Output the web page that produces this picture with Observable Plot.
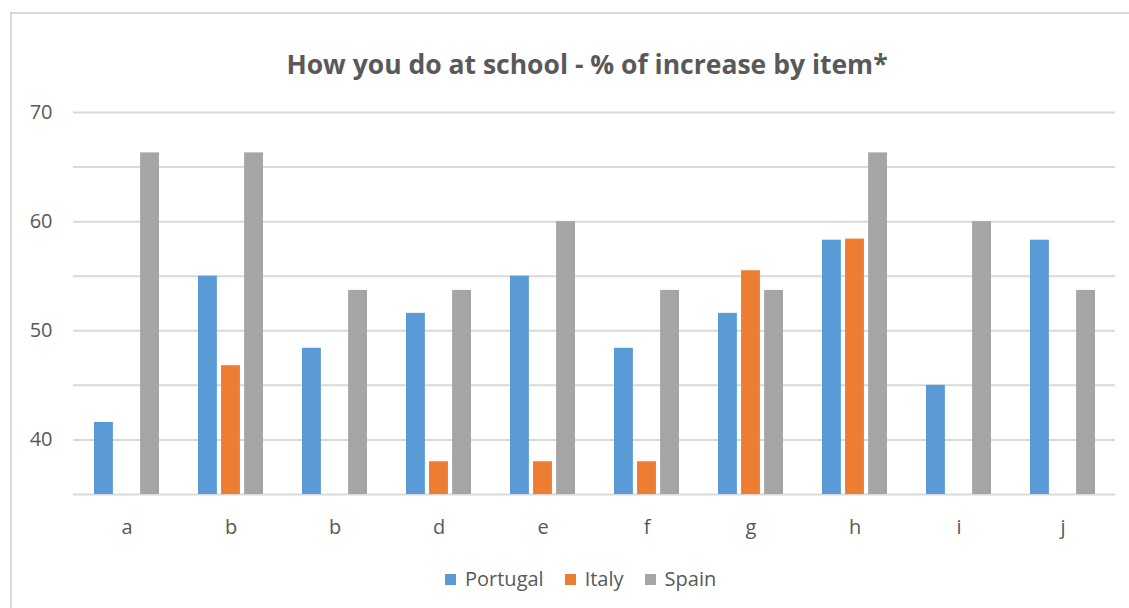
<!DOCTYPE html>
<html>
<head>
<meta charset="utf-8">
<script src="https://cdn.jsdelivr.net/npm/d3@7"></script>
<script src="https://cdn.jsdelivr.net/npm/@observablehq/plot@0.6"></script>
<style>
  html, body { margin: 0; padding: 0; background: #fff; overflow: hidden; }
  #wrap { position: relative; width: 1129px; height: 608px; overflow: hidden; font-family: "Open Sans", sans-serif; color: #595959; }
  #border { position: absolute; left: 10px; top: 12px; width: 1300px; height: 800px; border: 2px solid #d9d9d9; box-sizing: border-box; }
  #title { position: absolute; left: 0; top: 46px; width: 1174px; text-align: center; font-size: 26.5px; font-weight: 700; line-height: 36px; white-space: nowrap; }
  #chart { position: absolute; left: 0; top: 0; }
  #legend { position: absolute; left: 445px; top: 564px; display: flex; align-items: center; font-size: 20px; line-height: 30px; }
  #legend .item { display: flex; align-items: center; margin-right: 21px; }
  #legend .swatch { width: 11px; height: 11px; margin-right: 9px; }
</style>
</head>
<body>
<div id="wrap">
  <div id="border"></div>
  <div id="chart"></div>
  <div id="title">How you do at school - % of increase by item*</div>
  <div id="legend"></div>
</div>
<script>
// Item labels along the bottom axis (the third one really is a second "b")
const categories = ["a", "b", "b", "d", "e", "f", "g", "h", "i", "j"];

// % of increase per item, one array per country (null = no bar)
const portugal = [41.6, 55.0, 48.4, 51.6, 55.0, 48.4, 51.6, 58.3, 45.0, 58.3];
const italy    = [null, 46.8, null, 38.0, 38.0, 38.0, 55.5, 58.4, null, null];
const spain    = [66.3, 66.3, 53.7, 53.7, 60.0, 53.7, 53.7, 66.3, 60.0, 53.7];

const seriesNames  = ["Portugal", "Italy", "Spain"];
const seriesColors = ["#5b9bd5", "#ed7d31", "#a5a5a5"];

// Value axis: labelled every 10, gridlines every 5
const yDomain    = [35, 70];
const yTickValues = [40, 50, 60, 70];
const gridValues  = [35, 40, 45, 50, 55, 60, 65, 70];

const seriesValues = [portugal, italy, spain];
const rows = seriesNames.flatMap((name, k) =>
  seriesValues[k]
    .map((value, idx) => ({idx, series: name, value}))
    .filter(d => d.value != null)
);

// Layout of the plotting area
const width = 1129, height = 608;
const marginLeft = 73, marginRight = 14, marginTop = 112, marginBottom = 114;
const paddingInner = 0.375, paddingOuter = paddingInner / 2;
const n = categories.length;
const step = (width - marginLeft - marginRight) / (n - paddingInner + 2 * paddingOuter);
const bandwidth = step * (1 - paddingInner);
const barWidth = 19;
const spare = bandwidth - barWidth;   // room left for the two sibling bars + gaps

// Each country sits at its own slot inside the item's band
const insets = [
  {insetLeft: 0,         insetRight: spare},
  {insetLeft: spare / 2, insetRight: spare / 2},
  {insetLeft: spare,     insetRight: 0}
];

const bars = seriesNames.map((name, k) =>
  Plot.barY(rows.filter(d => d.series === name), {
    x: "idx",
    y1: yDomain[0],
    y2: "value",
    fill: seriesColors[k],
    ...insets[k]
  })
);

const chart = Plot.plot({
  width, height, marginLeft, marginRight, marginTop, marginBottom,
  style: {fontFamily: "Open Sans, sans-serif", fontSize: "20px", color: "#595959", background: "transparent"},
  x: {domain: d3.range(n), paddingInner, paddingOuter, align: 0.5},
  y: {domain: yDomain},
  marks: [
    Plot.ruleY(gridValues, {stroke: "#d9d9d9", strokeWidth: 2}),
    ...bars,
    Plot.axisY(yTickValues, {tickSize: 0, tickPadding: 21, label: null, fontSize: 20}),
    Plot.axisX({tickSize: 0, tickPadding: 25, label: null, fontSize: 20, tickFormat: i => categories[i]})
  ]
});
document.getElementById("chart").appendChild(chart);

// Legend below the chart
const legend = document.getElementById("legend");
seriesNames.forEach((name, k) => {
  const item = document.createElement("div");
  item.className = "item";
  const sw = document.createElement("span");
  sw.className = "swatch";
  sw.style.background = seriesColors[k];
  const label = document.createElement("span");
  label.textContent = name;
  item.appendChild(sw);
  item.appendChild(label);
  legend.appendChild(item);
});
</script>
</body>
</html>
